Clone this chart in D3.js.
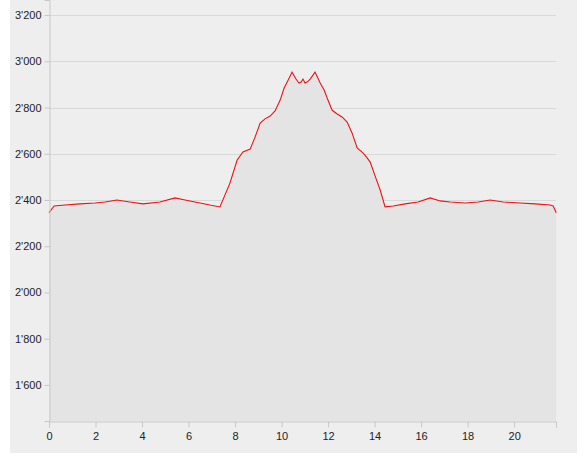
<!DOCTYPE html>
<html>
<head>
<meta charset="utf-8">
<script src="https://cdn.jsdelivr.net/npm/d3@7"></script>
<style>
body { margin:0; background:#fff; }
text { font-family: "Liberation Sans", Arial, sans-serif; font-size:11px; fill:#222; }
</style>
</head>
<body>
<script>
// distance (km) and elevation (m)
var km = [0,0.22,0.69,1.33,1.98,2.41,2.92,3.48,4.04,4.77,5.42,5.85,6.49,6.92,7.35,7.78,8.09,8.34,8.65,8.86,9.08,9.29,9.51,9.72,9.94,10.11,10.28,10.45,10.62,10.75,10.84,10.92,11.01,11.10,11.23,11.44,11.66,11.83,11.96,12.17,12.39,12.60,12.82,13.03,13.25,13.51,13.68,13.81,14.02,14.24,14.45,14.80,15.31,15.87,16.39,16.82,17.25,17.89,18.45,18.97,19.53,20.26,20.90,21.55,21.68,21.81];
var elev = [2345,2374,2378,2383,2387,2391,2400,2391,2383,2391,2409,2400,2387,2378,2370,2473,2573,2608,2620,2672,2733,2751,2763,2785,2832,2884,2918,2953,2923,2906,2910,2923,2906,2910,2923,2953,2906,2876,2841,2789,2772,2759,2737,2690,2625,2603,2582,2564,2504,2443,2370,2374,2383,2391,2409,2396,2391,2387,2391,2400,2391,2387,2383,2378,2374,2345];
var xTicks = [0,2,4,6,8,10,12,14,16,18,20];
var yTicks = [1600,1800,2000,2200,2400,2600,2800,3000,3200];

var width = 584, height = 460;
var margin = {left:49, right:28, top:0, bottom:39};

var svg = d3.select("body").append("svg").attr("width",width).attr("height",height);

svg.append("rect").attr("x",10).attr("y",0).attr("width",567).attr("height",453).attr("fill","#eeeeee");

var x = d3.scaleLinear().domain([0,21.8]).range([margin.left, width-margin.right]);
var y = d3.scaleLinear().domain([1444,3265]).range([height-margin.bottom, margin.top]);

var pts = km.map(function(d,i){ return [d, elev[i]]; });

// gridlines
svg.append("g").selectAll("line")
	.data(yTicks)
	.enter().append("line")
		.attr("x1",x(0)).attr("x2",x(21.8))
		.attr("y1",function(d){ return Math.round(y(d))+0.5; })
		.attr("y2",function(d){ return Math.round(y(d))+0.5; })
		.attr("stroke","#d9d9d9");

var area = d3.area().x(function(d){ return x(d[0]); }).y0(y(1444)).y1(function(d){ return y(d[1]); });
svg.append("path").datum(pts).attr("d",area).attr("fill","#e4e4e4");

var line = d3.line().x(function(d){ return x(d[0]); }).y(function(d){ return y(d[1]); });
svg.append("path").datum(pts).attr("d",line).attr("fill","none").attr("stroke","#ee1111").attr("stroke-width",1.1);

var fmt = function(d){ return d3.format(",")(d).replace(",","'"); };

var yAxis = svg.append("g").attr("transform","translate("+(margin.left+0.5)+",0)")
	.call(d3.axisLeft(y).tickValues(yTicks).tickSize(5).tickPadding(3).tickFormat(fmt));
var xAxis = svg.append("g").attr("transform","translate(0,"+(Math.round(y(1444))+0.5)+")")
	.call(d3.axisBottom(x).tickValues(xTicks.concat([21.8])).tickSize(6).tickPadding(5)
		.tickFormat(function(d){ return d===21.8 ? "" : d; }));

[yAxis, xAxis].forEach(function(a){
	a.select(".domain").attr("stroke","#c8c8c8");
	a.selectAll(".tick line").attr("stroke","#c8c8c8");
	a.selectAll("text").attr("fill","#222").style("font-size","11px").attr("font-family",null);
});
</script>
</body>
</html>
